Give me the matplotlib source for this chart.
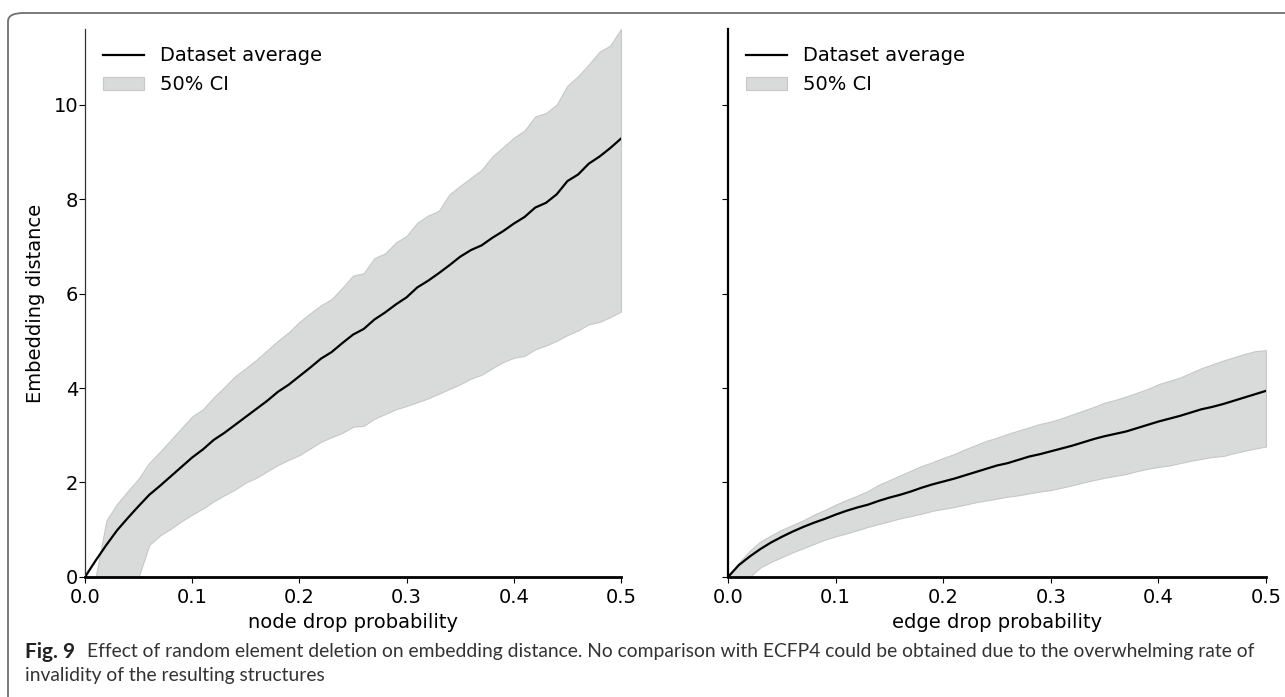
import matplotlib.pyplot as plt
import numpy as np
from matplotlib.patches import FancyBboxPatch

# drop probabilities, step 0.01
p = np.round(np.arange(0, 51) * 0.01, 2)

node_mean = [0.0, 0.35, 0.68, 0.99, 1.25, 1.50, 1.74, 1.93, 2.13, 2.33,
             2.53, 2.70, 2.90, 3.05, 3.22, 3.39, 3.56, 3.73, 3.92, 4.07,
             4.25, 4.43, 4.62, 4.76, 4.95, 5.13, 5.25, 5.45, 5.60, 5.77,
             5.92, 6.13, 6.27, 6.43, 6.60, 6.78, 6.92, 7.02, 7.18, 7.32,
             7.48, 7.62, 7.82, 7.92, 8.10, 8.38, 8.52, 8.75, 8.90, 9.08,
             9.28]
node_hi = [0.0, 0.0, 1.20, 1.55, 1.82, 2.08, 2.42, 2.65, 2.90, 3.15,
           3.40, 3.55, 3.80, 4.02, 4.25, 4.42, 4.60, 4.80, 5.00, 5.18,
           5.40, 5.58, 5.75, 5.88, 6.12, 6.38, 6.43, 6.75, 6.85, 7.08,
           7.22, 7.50, 7.65, 7.75, 8.10, 8.28, 8.45, 8.62, 8.90, 9.10,
           9.30, 9.45, 9.75, 9.82, 10.00, 10.40, 10.60, 10.85, 11.12, 11.25,
           11.60]
node_lo = [0.0, 0.0, 0.0, 0.0, 0.0, 0.0, 0.68, 0.88, 1.02, 1.18,
           1.32, 1.45, 1.60, 1.73, 1.85, 2.00, 2.10, 2.24, 2.37, 2.48,
           2.58, 2.72, 2.86, 2.96, 3.05, 3.18, 3.20, 3.35, 3.45, 3.55,
           3.62, 3.70, 3.78, 3.88, 3.98, 4.08, 4.20, 4.28, 4.42, 4.55,
           4.64, 4.68, 4.82, 4.90, 5.00, 5.12, 5.22, 5.35, 5.40, 5.50,
           5.62]

edge_mean = [0.0, 0.25, 0.43, 0.59, 0.73, 0.85, 0.96, 1.06, 1.15, 1.23,
             1.32, 1.40, 1.47, 1.53, 1.61, 1.68, 1.74, 1.81, 1.89, 1.96,
             2.02, 2.08, 2.15, 2.22, 2.29, 2.36, 2.41, 2.48, 2.55, 2.60,
             2.66, 2.72, 2.78, 2.85, 2.92, 2.98, 3.03, 3.08, 3.15, 3.22,
             3.29, 3.35, 3.41, 3.48, 3.55, 3.60, 3.66, 3.73, 3.80, 3.87,
             3.94]
edge_hi = [0.0, 0.30, 0.55, 0.75, 0.88, 1.00, 1.10, 1.20, 1.32, 1.42,
           1.53, 1.63, 1.72, 1.82, 1.95, 2.05, 2.15, 2.25, 2.35, 2.43,
           2.52, 2.60, 2.70, 2.79, 2.88, 2.95, 3.03, 3.10, 3.17, 3.24,
           3.29, 3.36, 3.44, 3.52, 3.60, 3.69, 3.75, 3.82, 3.90, 3.98,
           4.08, 4.15, 4.22, 4.32, 4.42, 4.50, 4.58, 4.65, 4.72, 4.78,
           4.80]
edge_lo = [0.0, 0.0, 0.0, 0.20, 0.32, 0.42, 0.52, 0.61, 0.70, 0.79,
           0.86, 0.92, 0.99, 1.06, 1.12, 1.18, 1.24, 1.29, 1.34, 1.40,
           1.44, 1.48, 1.53, 1.58, 1.62, 1.66, 1.70, 1.73, 1.77, 1.81,
           1.84, 1.89, 1.94, 2.00, 2.05, 2.10, 2.14, 2.18, 2.24, 2.29,
           2.33, 2.36, 2.41, 2.46, 2.50, 2.54, 2.56, 2.62, 2.67, 2.72,
           2.76]

xticks = [0.0, 0.1, 0.2, 0.3, 0.4, 0.5]
yticks = [0, 2, 4, 6, 8, 10]

caption_1 = ('Effect of random element deletion on embedding distance. No comparison '
             'with ECFP4 could be obtained due to the overwhelming rate of')
caption_2 = 'invalidity of the resulting structures'

plt.rcParams['font.family'] = ['DejaVu Sans']
plt.rcParams['font.size'] = 14

W, H = 1285, 697
fig = plt.figure(figsize=(W / 100, H / 100), dpi=100)

# rounded frame around the figure (only left and top visible)
frame = FancyBboxPatch((8 / W, -0.2), 1.2, (H - 13) / H + 0.2,
                       boxstyle="round,pad=0,rounding_size=0.012",
                       transform=fig.transFigure, fill=False,
                       edgecolor='#707070', linewidth=1.3)
fig.patches.append(frame)

ax1 = fig.add_axes([85 / W, 0.1722, 536 / W, 0.7862])
ax2 = fig.add_axes([728 / W, 0.1722, 538 / W, 0.7862], sharey=ax1)

panels = [(ax1, node_mean, node_lo, node_hi, 'node drop probability'),
          (ax2, edge_mean, edge_lo, edge_hi, 'edge drop probability')]

for ax, mean, lo, hi, xlab in panels:
    ax.fill_between(p, lo, hi, facecolor='#d9dbda', edgecolor='#c6c8c7',
                    linewidth=0.8, label='50% CI')
    ax.plot(p, mean, color='black', linewidth=1.6, label='Dataset average')
    ax.set_xlim(0, 0.5)
    ax.set_ylim(0, 11.6)
    ax.set_xticks(xticks)
    ax.set_xticklabels(['%.1f' % t for t in xticks])
    ax.set_yticks(yticks)
    ax.set_xlabel(xlab, labelpad=4)
    ax.spines['top'].set_visible(False)
    ax.spines['right'].set_visible(False)
    ax.spines['bottom'].set_linewidth(2.0)
    ax.tick_params(axis='x', length=4, pad=4)
    ax.tick_params(axis='y', length=4, pad=1)
    h, l = ax.get_legend_handles_labels()
    ax.legend(h[::-1], l[::-1], loc='upper left', frameon=False,
              handlelength=2.15)

ax1.spines['left'].set_linewidth(0.9)
ax1.spines['left'].set_color('#333333')
ax2.spines['left'].set_linewidth(1.6)

ax1.set_ylabel('Embedding distance', labelpad=6)
plt.setp(ax2.get_yticklabels(), visible=False)

cap_fam = ['Lato', 'DejaVu Sans']
fig.text(25 / W, 1 - 652 / H, 'Fig. 9', fontsize=15, fontweight='bold',
         family=cap_fam, color='#222222', va='center')
t1 = fig.text(87 / W, 1 - 652 / H, caption_1, fontsize=14, family=cap_fam,
              color='#333333', va='center')
t2 = fig.text(25 / W, 1 - 676 / H, caption_2, fontsize=14, family=cap_fam,
              color='#333333', va='center')

# fit the first caption line to the width it takes in the figure
fig.canvas.draw()
wpx = t1.get_window_extent().width
fs = 14 * (1262 - 87) / wpx
t1.set_fontsize(fs)
t2.set_fontsize(fs)

fig.savefig('out.png', dpi=100)
